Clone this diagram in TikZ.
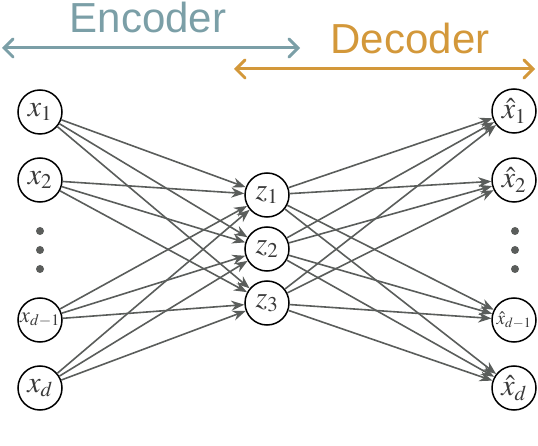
\documentclass[tikz,border=0pt]{standalone}
\usepackage{mathptmx}
\usepackage{fontspec}
\newfontfamily\labfont{Liberation Sans}
\usetikzlibrary{arrows.meta}
\definecolor{enc}{HTML}{7B9FA7}
\definecolor{dec}{HTML}{D3983A}
\definecolor{edgegray}{HTML}{5A5D5B}
\definecolor{labgray}{HTML}{3A3A3A}
\DeclareMathSizes{30}{30}{21}{15}
\DeclareMathSizes{22}{22}{16}{11}
\DeclareMathSizes{19}{19}{14}{10}
\begin{document}
\begin{tikzpicture}[x=1pt,y=-1pt,
  unit/.style={circle,draw=black,line width=1.5pt,minimum size=44pt,inner sep=0pt,
    text=labgray,font=\fontsize{30}{30}\selectfont},
  smallunit/.style={unit,font=\fontsize{22}{22}\selectfont},
  tinyunit/.style={unit,font=\fontsize{19}{19}\selectfont},
  conn/.style={draw=edgegray,line width=1.6pt,-{Stealth[length=13pt,width=10pt]}},
  span/.style={line width=3pt,line cap=round,
    {Straight Barb[length=9pt,width=18pt,line cap=round]}-{Straight Barb[length=9pt,width=18pt,line cap=round]}},
  dotm/.style={circle,fill=edgegray,inner sep=0pt,minimum size=8pt},
  title/.style={font=\labfont\fontsize{42}{42}\selectfont,anchor=base}]
\useasboundingbox (0,0) rectangle (538,446);

% titles and spans
\node[title,text=enc] (enctext) at (148,33) {Encoder};
\node[title,text=dec] (dectext) at (410,54) {Decoder};
\coordinate (ea) at (2,48);
\coordinate (eb) at (300,48);
\coordinate (da) at (234,69);
\coordinate (db) at (535,69);
\draw[span,enc] (ea) -- (eb);
\draw[span,dec] (da) -- (db);

% input layer
\node[unit] (x1) at (40,112) {$x_1$};
\node[unit] (x2) at (40,180) {$x_2$};
\node[smallunit] (xd1) at (40,320) {$x_{d-1}$};
\node[unit] (xd) at (40,388) {$x_d$};

% latent layer
\node[unit] (z1) at (267,195) {$z_1$};
\node[unit] (z2) at (267,249) {$z_2$};
\node[unit] (z3) at (267,303) {$z_3$};

% output layer
\node[unit] (y1) at (514,111) {$\hat{x}_1$};
\node[unit] (y2) at (514,180) {$\hat{x}_2$};
\node[tinyunit] (yd1) at (514,320) {$\hat{x}_{d-1}$};
\node[unit] (yd) at (514,388) {$\hat{x}_d$};

% dots
\foreach \yy [count=\i] in {231,250,269}{
  \node[dotm] (ld\i) at (40,\yy) {};
  \node[dotm] (rd\i) at (515,\yy) {};
}

% connectors
\foreach \a in {x1,x2,xd1,xd}
  \foreach \b in {z1,z2,z3}
    \draw[conn] (\a) -- (\b);
\foreach \a in {z1,z2,z3}
  \foreach \b in {y1,y2,yd1,yd}
    \draw[conn] (\a) -- (\b);
\end{tikzpicture}
\end{document}
